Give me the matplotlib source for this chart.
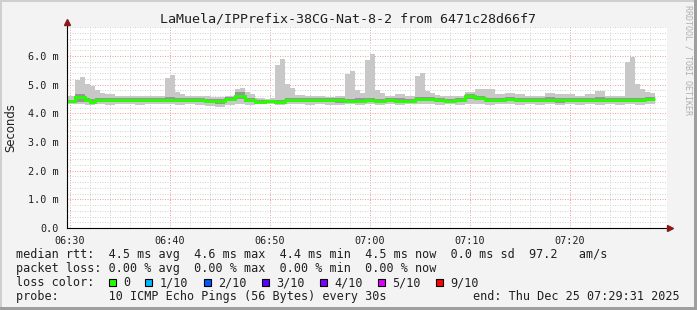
import matplotlib
matplotlib.use("Agg")
import matplotlib.pyplot as plt
import numpy as np
from matplotlib.patches import Rectangle
from matplotlib.ticker import MultipleLocator, FixedLocator, FixedFormatter

# 30 s steps, minutes relative to 06:30 (first step starts at 06:29:30)
step_start = -0.5
step_len = 0.5

rtt_max = [
    4.60, 4.60, 5.16, 5.27, 5.03, 4.95, 4.80, 4.72, 4.68, 4.68,
    4.62, 4.62, 4.60, 4.60, 4.62, 4.62, 4.62, 4.62, 4.60, 4.60,
    5.22, 5.33, 4.73, 4.66, 4.62, 4.62, 4.60, 4.60, 4.60, 4.58,
    4.56, 4.58, 4.62, 4.62, 4.85, 4.87, 4.75, 4.68, 4.55, 4.52,
    4.50, 4.52, 5.69, 5.89, 5.03, 4.90, 4.65, 4.63, 4.60, 4.60,
    4.60, 4.60, 4.58, 4.58, 4.60, 4.62, 5.37, 5.49, 4.80, 4.72,
    5.86, 6.07, 4.80, 4.72, 4.62, 4.62, 4.66, 4.66, 4.60, 4.62,
    5.30, 5.42, 4.79, 4.70, 4.64, 4.62, 4.62, 4.62, 4.60, 4.60,
    4.76, 4.76, 4.84, 4.84, 4.84, 4.84, 4.68, 4.68, 4.72, 4.72,
    4.66, 4.66, 4.62, 4.62, 4.62, 4.62, 4.70, 4.70, 4.66, 4.66,
    4.66, 4.66, 4.62, 4.62, 4.69, 4.69, 4.78, 4.78, 4.60, 4.60,
    4.62, 4.62, 5.80, 5.98, 5.01, 4.85, 4.73, 4.70,
]
rtt_upper = [
    4.48, 4.48, 4.66, 4.66, 4.54, 4.50, 4.53, 4.53, 4.55, 4.55,
    4.54, 4.54, 4.52, 4.52, 4.55, 4.55, 4.55, 4.55, 4.53, 4.53,
    4.56, 4.56, 4.54, 4.54, 4.53, 4.53, 4.52, 4.52, 4.50, 4.50,
    4.50, 4.50, 4.58, 4.58, 4.76, 4.76, 4.54, 4.54, 4.48, 4.48,
    4.48, 4.48, 4.46, 4.46, 4.52, 4.52, 4.53, 4.53, 4.52, 4.52,
    4.53, 4.53, 4.52, 4.52, 4.52, 4.52, 4.50, 4.50, 4.52, 4.52,
    4.55, 4.55, 4.51, 4.51, 4.53, 4.53, 4.54, 4.54, 4.50, 4.50,
    4.58, 4.58, 4.57, 4.57, 4.53, 4.53, 4.51, 4.51, 4.52, 4.52,
    4.66, 4.66, 4.62, 4.62, 4.53, 4.53, 4.53, 4.53, 4.58, 4.58,
    4.53, 4.53, 4.53, 4.53, 4.52, 4.52, 4.56, 4.56, 4.53, 4.53,
    4.53, 4.53, 4.54, 4.54, 4.53, 4.53, 4.56, 4.56, 4.52, 4.52,
    4.52, 4.52, 4.53, 4.53, 4.54, 4.54, 4.58, 4.58,
]
rtt_median = [
    4.42, 4.42, 4.58, 4.58, 4.46, 4.40, 4.46, 4.46, 4.47, 4.47,
    4.46, 4.46, 4.45, 4.45, 4.46, 4.46, 4.47, 4.47, 4.46, 4.46,
    4.48, 4.48, 4.47, 4.47, 4.46, 4.46, 4.45, 4.45, 4.44, 4.44,
    4.44, 4.44, 4.50, 4.50, 4.62, 4.62, 4.46, 4.46, 4.41, 4.41,
    4.42, 4.42, 4.39, 4.39, 4.45, 4.45, 4.46, 4.46, 4.45, 4.45,
    4.46, 4.46, 4.45, 4.45, 4.46, 4.46, 4.43, 4.43, 4.44, 4.44,
    4.47, 4.47, 4.44, 4.44, 4.45, 4.45, 4.44, 4.44, 4.43, 4.43,
    4.50, 4.50, 4.50, 4.50, 4.46, 4.46, 4.44, 4.44, 4.45, 4.45,
    4.60, 4.60, 4.52, 4.52, 4.46, 4.46, 4.45, 4.45, 4.50, 4.50,
    4.45, 4.45, 4.46, 4.46, 4.45, 4.45, 4.47, 4.47, 4.45, 4.45,
    4.45, 4.45, 4.46, 4.46, 4.45, 4.45, 4.46, 4.46, 4.45, 4.45,
    4.45, 4.45, 4.45, 4.45, 4.46, 4.46, 4.50, 4.50,
]
rtt_lower = [
    4.37, 4.37, 4.40, 4.40, 4.38, 4.35, 4.40, 4.40, 4.41, 4.41,
    4.40, 4.40, 4.39, 4.39, 4.40, 4.40, 4.41, 4.41, 4.40, 4.40,
    4.41, 4.41, 4.40, 4.40, 4.40, 4.40, 4.39, 4.39, 4.36, 4.36,
    4.33, 4.33, 4.42, 4.42, 4.50, 4.50, 4.38, 4.38, 4.36, 4.36,
    4.37, 4.37, 4.34, 4.34, 4.40, 4.40, 4.40, 4.40, 4.39, 4.39,
    4.40, 4.40, 4.39, 4.39, 4.37, 4.37, 4.37, 4.37, 4.38, 4.38,
    4.41, 4.41, 4.38, 4.38, 4.39, 4.39, 4.36, 4.36, 4.37, 4.37,
    4.43, 4.43, 4.43, 4.43, 4.40, 4.40, 4.38, 4.38, 4.39, 4.39,
    4.50, 4.50, 4.45, 4.45, 4.40, 4.40, 4.39, 4.39, 4.43, 4.43,
    4.39, 4.39, 4.40, 4.40, 4.39, 4.39, 4.41, 4.41, 4.37, 4.37,
    4.39, 4.39, 4.40, 4.40, 4.39, 4.39, 4.40, 4.40, 4.39, 4.39,
    4.38, 4.38, 4.39, 4.39, 4.40, 4.40, 4.44, 4.44,
]
rtt_min = [
    4.33, 4.33, 4.32, 4.32, 4.30, 4.30, 4.31, 4.31, 4.30, 4.30,
    4.32, 4.32, 4.31, 4.31, 4.30, 4.30, 4.32, 4.32, 4.31, 4.31,
    4.32, 4.32, 4.30, 4.30, 4.31, 4.31, 4.30, 4.30, 4.27, 4.27,
    4.22, 4.22, 4.30, 4.30, 4.33, 4.33, 4.30, 4.30, 4.31, 4.31,
    4.32, 4.32, 4.30, 4.30, 4.33, 4.33, 4.32, 4.32, 4.30, 4.30,
    4.31, 4.31, 4.30, 4.30, 4.28, 4.28, 4.31, 4.31, 4.30, 4.30,
    4.32, 4.32, 4.30, 4.30, 4.31, 4.31, 4.29, 4.29, 4.31, 4.31,
    4.32, 4.32, 4.33, 4.33, 4.30, 4.30, 4.31, 4.31, 4.30, 4.30,
    4.33, 4.33, 4.34, 4.34, 4.30, 4.30, 4.31, 4.31, 4.32, 4.32,
    4.30, 4.30, 4.31, 4.31, 4.30, 4.30, 4.32, 4.32, 4.28, 4.28,
    4.31, 4.31, 4.30, 4.30, 4.32, 4.32, 4.30, 4.30, 4.31, 4.31,
    4.30, 4.30, 4.31, 4.31, 4.30, 4.30, 4.32, 4.32,
]

x_ticks = [0, 10, 20, 30, 40, 50]
x_labels = ["06:30", "06:40", "06:50", "07:00", "07:10", "07:20"]
y_ticks = [0, 1, 2, 3, 4, 5, 6]
y_labels = ["0.0", "1.0 m", "2.0 m", "3.0 m", "4.0 m", "5.0 m", "6.0 m"]

title = "LaMuela/IPPrefix-38CG-Nat-8-2 from 6471c28d66f7"
legend_rows = [
    "median rtt:  4.5 ms avg  4.6 ms max  4.4 ms min  4.5 ms now  0.0 ms sd  97.2   am/s",
    "packet loss: 0.00 % avg  0.00 % max  0.00 % min  0.00 % now",
]
loss_labels = ["0", "1/10", "2/10", "3/10", "4/10", "5/10", "9/10"]
loss_colors = ["#26ff00", "#00b8ff", "#0059ff", "#5e00ff", "#7e00ff", "#dd00ff", "#ff0000"]
probe_text = "probe:       10 ICMP Echo Pings (56 Bytes) every 30s"
end_text = "end: Thu Dec 25 07:29:31 2025"

W, H = 697, 310
plt.rcParams["font.family"] = ["DejaVu Sans Mono"]


def fx(px):
    return px / W


def fy(py):
    return 1 - py / H


fig = plt.figure(figsize=(W / 100, H / 100), dpi=100, facecolor="#f3f3f3")
ax = fig.add_axes([fx(66.7), fy(228), 600 / W, 200.7 / H])
ax.set_facecolor("white")

edges = step_start + step_len * np.arange(len(rtt_median) + 1)
ax.stairs(rtt_max, edges, baseline=rtt_min, fill=True, color="#c8c8c8", lw=0)
ax.stairs(rtt_upper, edges, baseline=rtt_lower, fill=True, color="#969696", lw=0)
ax.stairs(rtt_median, edges, baseline=None, color="#26ff00", lw=2.1)

ax.set_xlim(-0.33, 59.67)
ax.set_ylim(0, 7.0)

ax.xaxis.set_major_locator(FixedLocator(x_ticks))
ax.xaxis.set_major_formatter(FixedFormatter(x_labels))
ax.xaxis.set_minor_locator(MultipleLocator(2))
ax.yaxis.set_major_locator(FixedLocator(y_ticks))
ax.yaxis.set_major_formatter(FixedFormatter(y_labels))
ax.yaxis.set_minor_locator(MultipleLocator(0.2))
ax.set_axisbelow(True)
ax.grid(which="minor", color="#d4d4d4", lw=0.72, ls=(0, (1, 1.5)))
ax.grid(which="major", color="#f2a0a0", lw=0.72, ls=(0, (1, 1.5)))
ax.tick_params(which="both", length=0, labelsize=7.3, colors="#202020")
ax.tick_params(axis="x", pad=6)
ax.tick_params(axis="y", pad=6)
for s in ax.spines.values():
    s.set_visible(False)

# axis lines with arrows
ax.plot([0, 0], [0, 1.022], transform=ax.transAxes, color="black", lw=0.8, clip_on=False)
ax.plot([0, 1.004], [0, 0], transform=ax.transAxes, color="black", lw=0.8, clip_on=False)
ax.plot([0], [1.026], transform=ax.transAxes, marker="^", ms=4, color="#8b1a1a", clip_on=False)
ax.plot([1.006], [0], transform=ax.transAxes, marker=">", ms=4, color="#8b1a1a", clip_on=False)

fig.text(fx(348), fy(19), title, ha="center", va="center", fontsize=9.6, color="#202020")
fig.text(fx(11), fy(127.6), "Seconds", rotation=90, ha="center", va="center",
         fontsize=8.4, family="DejaVu Sans", color="#202020")
fig.text(fx(688), fy(5), "RRDTOOL / TOBI OETIKER", rotation=270, ha="center", va="top",
         fontsize=6, color="#b0b0b0")

text_size = 8.5
char_w = 7.12
fig.text(fx(16), fy(258), legend_rows[0], fontsize=text_size, va="baseline", color="#202020")
fig.text(fx(16), fy(272), legend_rows[1], fontsize=text_size, va="baseline", color="#202020")
fig.text(fx(16), fy(286), "loss color:", fontsize=text_size, va="baseline", color="#202020")
bx = 108.7
for label, c in zip(loss_labels, loss_colors):
    fig.patches.append(Rectangle((fx(bx), fy(286)), 7 / W, 7 / H, transform=fig.transFigure,
                                 facecolor=c, edgecolor="black", lw=0.8))
    fig.text(fx(bx + 14.3), fy(286), label, fontsize=text_size, va="baseline", color="#202020")
    bx += 14.3 + len(label) * char_w + 15.3
fig.text(fx(16), fy(300), probe_text, fontsize=text_size, va="baseline", color="#202020")
fig.text(fx(680), fy(300), end_text, fontsize=text_size, va="baseline", ha="right", color="#202020")

# 3d frame around the canvas
fig.patches.append(Rectangle((0, 1 - 2 / H), 1, 2 / H, transform=fig.transFigure, color="#cfcfcf", lw=0))
fig.patches.append(Rectangle((0, 0), 2 / W, 1, transform=fig.transFigure, color="#cfcfcf", lw=0))
fig.patches.append(Rectangle((0, 0), 1, 3 / H, transform=fig.transFigure, color="#9e9e9e", lw=0))
fig.patches.append(Rectangle((1 - 3 / W, 0), 3 / W, 1, transform=fig.transFigure, color="#9e9e9e", lw=0))

fig.savefig("out.png", dpi=100, facecolor=fig.get_facecolor())
